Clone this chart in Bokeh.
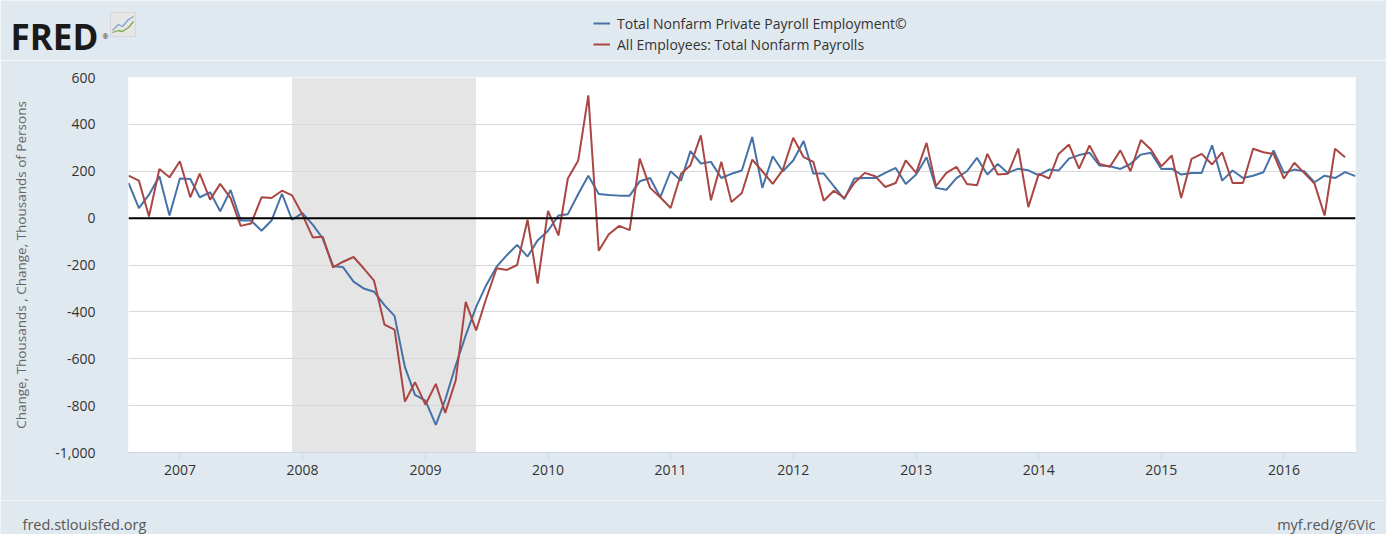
from datetime import datetime
import pandas as pd
from bokeh.plotting import figure
from bokeh.layouts import column
from bokeh.models import (Range1d, FixedTicker, DatetimeTickFormatter, NumeralTickFormatter,
                          Span, Label, Legend, LegendItem)
from bokeh.embed import file_html
from bokeh.resources import INLINE

# ---------------- data ----------------
start_month = "2006-08-01"
private_payrolls = [
    150, 43, 100, 179, 11, 169, 167, 89, 110, 29, 120, -10, -10, -54, -10, 104, -7, 21, -29, -86,
    -204, -210, -271, -300, -314, -371, -417, -636, -754, -779, -882, -775, -629, -500, -379, -286,
    -207, -157, -114, -164, -95, -54, 11, 17, 103, 181, 103, 99, 96, 96, 157, 171, 89, 200, 160,
    286, 233, 240, 171, 189, 203, 346, 129, 264, 200, 246, 329, 190, 190, 136, 81, 169, 171, 171,
    193, 214, 146, 186, 260, 129, 121, 171, 200, 257, 186, 231, 193, 211, 204, 183, 207, 203, 254,
    269, 279, 224, 221, 210, 231, 271, 279, 210, 211, 186, 193, 193, 311, 160, 203, 171, 181, 196,
    289, 193, 207, 200, 153, 181, 171, 196, 179,
]
total_nonfarm = [
    181, 160, 7, 210, 174, 243, 89, 190, 79, 146, 85, -33, -23, 89, 86, 117, 97, 14, -83, -79,
    -210, -186, -166, -214, -267, -454, -476, -783, -700, -796, -707, -831, -693, -357, -479, -343,
    -214, -221, -200, -7, -279, 31, -74, 169, 246, 524, -139, -69, -33, -51, 254, 129, 89, 43, 189,
    226, 353, 76, 240, 69, 107, 250, 200, 146, 206, 343, 260, 240, 74, 117, 86, 150, 193, 179, 133,
    150, 246, 193, 321, 136, 193, 219, 146, 140, 274, 186, 189, 297, 47, 189, 169, 274, 314, 211,
    310, 231, 219, 289, 200, 333, 293, 221, 267, 86, 253, 274, 229, 281, 150, 150, 296, 281, 274,
    169, 236, 193, 147, 11, 296, 260,
]
recession_start = datetime(2007, 12, 1)
recession_end = datetime(2009, 6, 1)
year_ticks = list(range(2007, 2017))
y_ticks = [-1000, -800, -600, -400, -200, 0, 200, 400, 600]
series_names = ["Total Nonfarm Private Payroll Employment©", "All Employees: Total Nonfarm Payrolls"]
series_colors = ["#4572a7", "#aa4643"]

dates_blue = pd.date_range(start_month, periods=len(private_payrolls), freq="MS")
dates_red = pd.date_range(start_month, periods=len(total_nonfarm), freq="MS")

BG = "#e1e9f0"
FONT = "Open Sans"
W = 1386
TOP_H, MAIN_H, FOOT_H = 60, 440, 34


def strip(height):
    """A frame-only strip whose data units equal pixels (y measured upwards)."""
    f = figure(width=W, height=height, x_range=Range1d(0, W), y_range=Range1d(0, height),
               x_axis_location=None, y_axis_location=None,
               output_backend="svg", toolbar_location=None, frame_align=False,
               min_border=0, background_fill_color=BG, border_fill_color=BG,
               outline_line_color=None)
    f.grid.grid_line_color = None
    return f


# ---------------- header: logo + legend ----------------
top = strip(TOP_H)
top.add_layout(Label(x=10, y=TOP_H - 36, text="FRED", text_baseline="alphabetic",
                     text_font=FONT, text_font_size="35px", text_font_style="bold",
                     text_color="#1a1a1a"))
top.add_layout(Label(x=102, y=TOP_H - 36, text="®", text_baseline="alphabetic",
                     text_font=FONT, text_font_size="7px", text_color="#1a1a1a"))
top.quad(left=[110], right=[135], bottom=[TOP_H - 36], top=[TOP_H - 12],
         fill_color="#e6e6e6", line_color="#d8d8d8")
top.line([112, 118, 122, 128, 133], [TOP_H - 30, TOP_H - 24, TOP_H - 26, TOP_H - 19, TOP_H - 16],
         line_color="#7da3c8", line_width=1.3)
top.line([112, 118, 122, 128, 133], [TOP_H - 32, TOP_H - 30, TOP_H - 31, TOP_H - 27, TOP_H - 21],
         line_color="#7bab4a", line_width=1.3)

# legend proxies: styled like the series, placed outside the strip's visible range
legend_renderers = [top.line([-20, -10], [-20, -20], line_color=c, line_width=2) for c in series_colors]
legend = Legend(items=[LegendItem(label=n, renderers=[r]) for n, r in zip(series_names, legend_renderers)],
                location=(593, TOP_H - 54), orientation="vertical",
                background_fill_alpha=0, border_line_alpha=0,
                padding=0, margin=0, spacing=1, glyph_width=17, glyph_height=20,
                label_height=20, label_standoff=7,
                label_text_font=FONT, label_text_font_size="14px", label_text_color="#333333")
top.add_layout(legend, "center")

# ---------------- main chart ----------------
p = figure(width=W, height=MAIN_H, x_axis_type="datetime",
           x_range=Range1d(dates_blue[0], dates_blue[-1]),
           y_range=Range1d(min(y_ticks), max(y_ticks)),
           output_backend="svg", toolbar_location=None, frame_align=False,
           min_border_left=128, min_border_right=31, min_border_top=17, min_border_bottom=48,
           background_fill_color="white", border_fill_color=BG, outline_line_color=None)

p.quad(left=[recession_start], right=[recession_end], bottom=[min(y_ticks)], top=[max(y_ticks)],
       fill_color="#e5e5e5", line_color=None, level="image")

p.line(dates_blue, private_payrolls, line_color=series_colors[0], line_width=2)
p.line(dates_red, total_nonfarm, line_color=series_colors[1], line_width=2)

p.add_layout(Span(location=0, dimension="width", line_color="black", line_width=2))

p.xaxis.ticker = FixedTicker(ticks=[datetime(y, 1, 1).timestamp() * 1000 for y in year_ticks])
p.xaxis.formatter = DatetimeTickFormatter(years="%Y", months="%Y", days="%Y", hours="%Y")
p.xaxis.axis_line_color = "#ccd6eb"
p.xaxis.major_tick_line_color = "#ccd6eb"
p.xaxis.major_tick_out = 8
p.xaxis.major_tick_in = 0
p.xaxis.minor_tick_line_color = None
p.xaxis.major_label_standoff = 4

p.yaxis.ticker = FixedTicker(ticks=y_ticks)
p.yaxis.formatter = NumeralTickFormatter(format="0,0")
p.yaxis.axis_line_color = None
p.yaxis.major_tick_line_color = None
p.yaxis.minor_tick_line_color = None
p.yaxis.major_label_standoff = 27
p.yaxis.axis_label = "Change, Thousands , Change, Thousands of Persons"
p.yaxis.axis_label_standoff = 22
p.yaxis.axis_label_text_font = FONT
p.yaxis.axis_label_text_font_size = "13.5px"
p.yaxis.axis_label_text_font_style = "normal"
p.yaxis.axis_label_text_color = "#666666"

for ax in (p.xaxis, p.yaxis):
    ax.major_label_text_font = FONT
    ax.major_label_text_font_size = "14px"
    ax.major_label_text_color = "#333333"

p.xgrid.grid_line_color = None
p.ygrid.grid_line_color = "#d8d8d8"
p.ygrid.grid_line_width = 1

# ---------------- footer ----------------
foot = strip(FOOT_H)
foot.add_layout(Label(x=22, y=10, text="fred.stlouisfed.org", text_baseline="alphabetic",
                      text_font=FONT, text_font_size="14.5px", text_color="#555555"))
foot.add_layout(Label(x=1375, y=10, text="myf.red/g/6Vic", text_align="right",
                      text_baseline="alphabetic",
                      text_font=FONT, text_font_size="14.5px", text_color="#555555"))

layout = column(top, p, foot, spacing=0)
open("out.html", "w").write(file_html(layout, INLINE))
